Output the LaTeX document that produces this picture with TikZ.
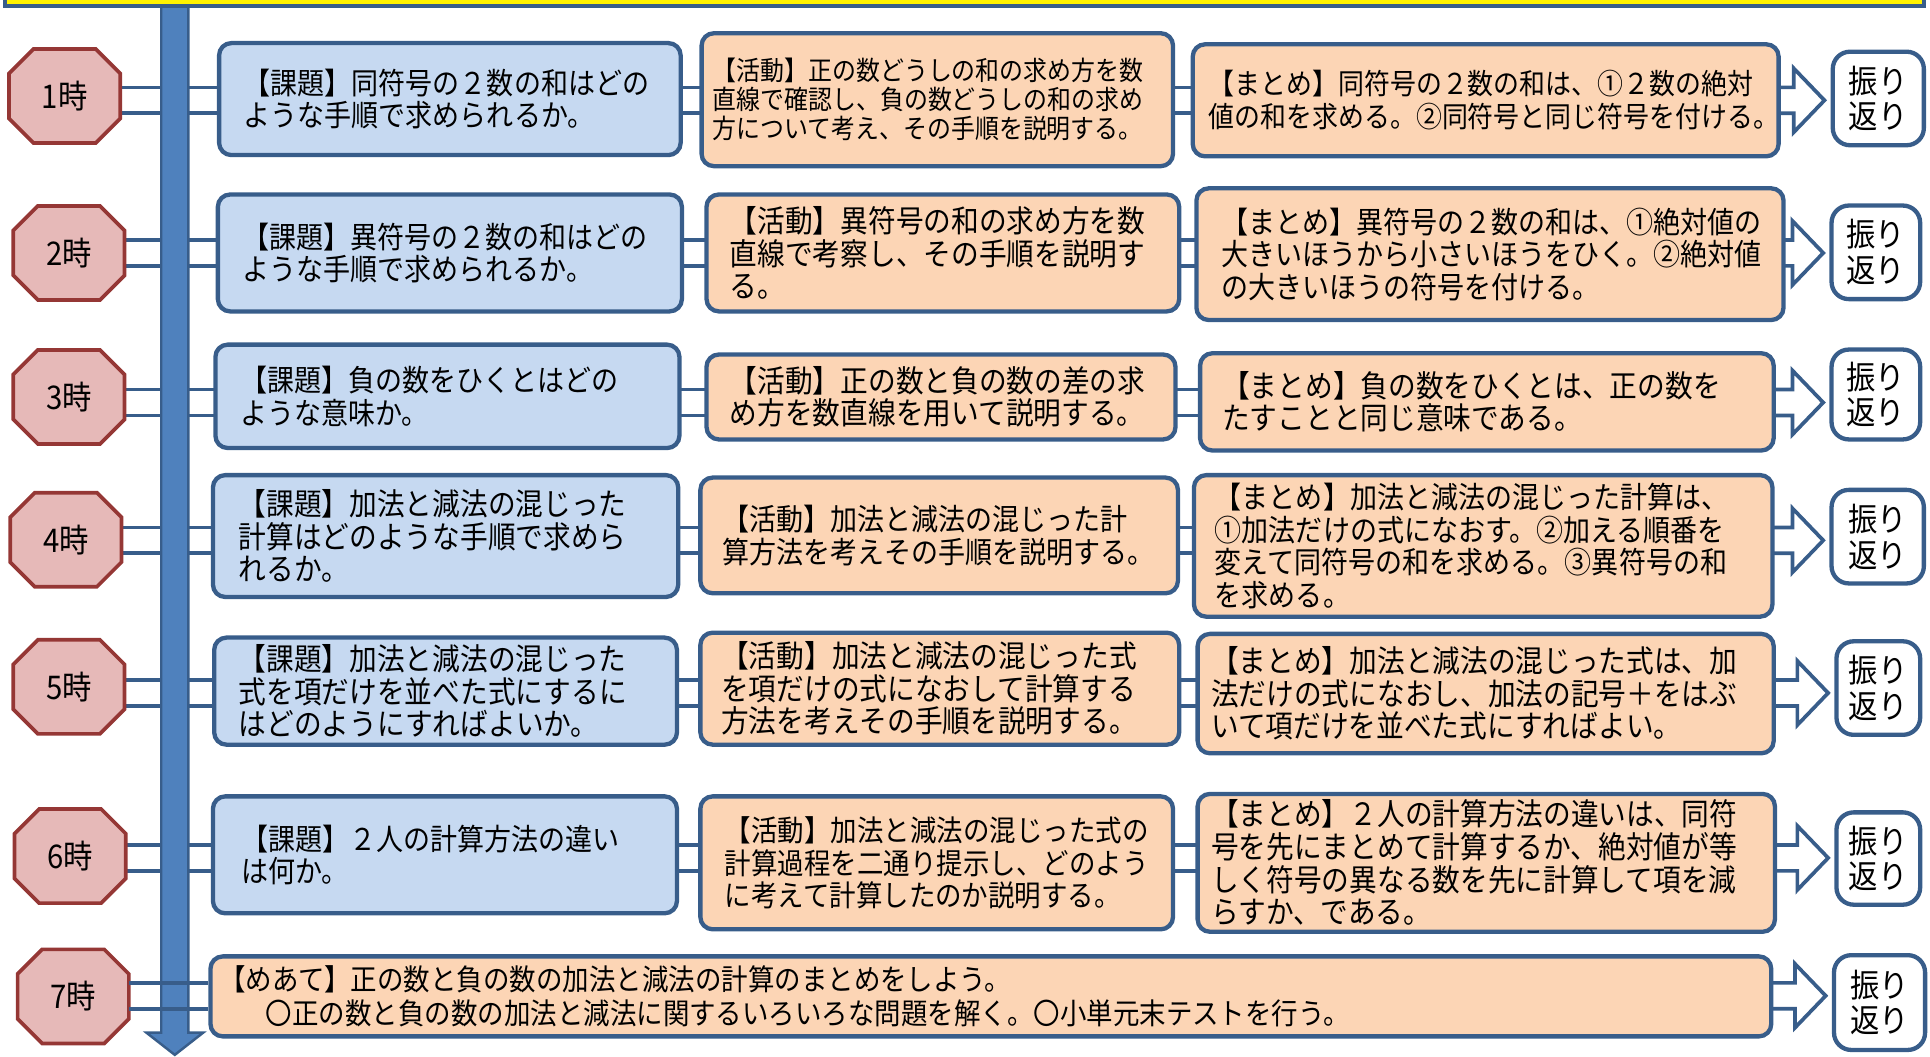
\documentclass[tikz,border=0pt]{standalone}
\usepackage{fontspec}
\newfontfamily\jp[FakeStretch=0.9]{Noto Sans CJK JP}
\usetikzlibrary{calc}
\definecolor{bcol}{HTML}{385D8A}
\definecolor{kfill}{HTML}{C6D9F1}
\definecolor{afill}{HTML}{FCD5B5}
\definecolor{ofill}{HTML}{E6B9B8}
\definecolor{ocol}{HTML}{953735}
\definecolor{barfill}{HTML}{4F81BD}
\pgfdeclarelayer{bg}
\pgfdeclarelayer{mid}
\pgfsetlayers{bg,mid,main}
\tikzset{
  box/.style={draw=bcol, line width=3.5pt, rounded corners=10pt, align=left, inner sep=0pt,
    font=\jp\fontsize{24.4}{26.5}\selectfont},
  fs/.style={font=\jp\fontsize{#1}{26.5}\selectfont},
  kadai/.style={box, fill=kfill},
  katsu/.style={box, fill=afill},
  furi/.style={draw=bcol, line width=3.5pt, rounded corners=14pt, fill=white, align=center,
    inner sep=0pt, font=\jp\fontsize{26.5}{29}\selectfont},
  oct/.style={inner sep=0pt, minimum width=90pt, minimum height=76pt,
    font=\jp\fontsize{26.5}{28}\selectfont},
  conn/.style={draw=bcol, line width=3pt, double=white, double distance=18pt},
  wire/.style={draw=bcol, line width=3pt},
  barstyle/.style={fill=barfill, draw=bcol, line width=2pt, line join=miter},
  octline/.style={fill=ofill, draw=ocol, line width=3pt, line join=miter},
  arrline/.style={fill=white, draw=bcol, line width=3pt, line join=miter},
}
\newcommand\octo[1]{%
  \begin{pgfonlayer}{mid}
  \filldraw[octline] ($(#1.north west)+(20,0)$) -- ($(#1.north east)+(-20,0)$)
    -- ($(#1.north east)+(0,20)$) -- ($(#1.south east)+(0,-20)$)
    -- ($(#1.south east)+(-20,0)$) -- ($(#1.south west)+(20,0)$)
    -- ($(#1.south west)+(0,-20)$) -- ($(#1.north west)+(0,20)$) -- cycle;
  \end{pgfonlayer}}
\newcommand\blkarrow[3]{%
  \begin{pgfonlayer}{bg}
  \filldraw[arrline] ($(#1.east |- #3)+(-8,-10.5)$) -- ($(#2.west |- #3)+(-30,-10.5)$)
    -- ($(#2.west |- #3)+(-30,-26)$) -- ($(#2.west |- #3)+(-5,0)$)
    -- ($(#2.west |- #3)+(-30,26)$) -- ($(#2.west |- #3)+(-30,10.5)$)
    -- ($(#1.east |- #3)+(-8,10.5)$) -- cycle;
  \end{pgfonlayer}}
\newcommand\rowconn[5]{%
  \begin{pgfonlayer}{bg}
  \draw[conn] (#1 |- #5) -- (#2 |- #5);
  \draw[conn] (#2 |- #5) -- (#3 |- #5);
  \draw[conn] (#3 |- #5) -- (#4 |- #5);
  \end{pgfonlayer}}
\begin{document}
\begin{tikzpicture}[x=1pt,y=-1pt]
\useasboundingbox (0,0) rectangle (1568,858.7);
\coordinate (r1) at (0,81.5);
\coordinate (r2) at (0,205.5);
\coordinate (r3) at (0,327);
\coordinate (r4) at (0,439);
\coordinate (r5) at (0,563);
\coordinate (r6) at (0,697);
\coordinate (r7) at (0,809);

% vertical time bar
\begin{pgfonlayer}{mid}
\filldraw[barstyle] (131,0) -- (131,839) -- (119,839) -- (142,857) -- (165,839) -- (153,839) -- (153,0) -- cycle;
\end{pgfonlayer}

% ---------- row 1
\node[oct] (o1) at (52.5,78) {1時}; \octo{o1}
\node[kadai, minimum width=375pt, minimum height=91pt, text width=335pt] (A1) at (365.5,80.5)
  {【課題】同符号の２数の和はどの\\ような手順で求められるか。};
\node[katsu, minimum width=383pt, minimum height=108pt, text width=365pt, font=\jp\fontsize{21.6}{23.5}\selectfont] (B1) at (761.5,81)
  {【活動】正の数どうしの和の求め方を数\\直線で確認し、負の数どうしの和の求め\\方について考え、その手順を説明する。};
\node[katsu, minimum width=476pt, minimum height=91pt, text width=450pt, fs=23.4] (C1) at (1207,81.5)
  {【まとめ】同符号の２数の和は、①２数の絶対\\値の和を求める。②同符号と同じ符号を付ける。};
\node[furi, minimum width=74pt, minimum height=76pt] (R1) at (1526,80) {振り\\返り};
\rowconn{o1}{A1}{B1}{C1}{r1}
\blkarrow{C1}{R1}{r1}

% ---------- row 2
\node[oct] (o2) at (56,205.5) {2時}; \octo{o2}
\node[kadai, minimum width=377pt, minimum height=95pt, text width=337pt] (A2) at (365.5,205.5)
  {【課題】異符号の２数の和はどの\\ような手順で求められるか。};
\node[katsu, minimum width=384pt, minimum height=95pt, text width=346pt, fs=25] (B2) at (766,205.5)
  {【活動】異符号の和の求め方を数\\直線で考察し、その手順を説明す\\る。};
\node[katsu, minimum width=477pt, minimum height=107pt, text width=437pt] (C2) at (1210.5,206.5)
  {【まとめ】異符号の２数の和は、①絶対値の\\大きいほうから小さいほうをひく。②絶対値\\の大きいほうの符号を付ける。};
\node[furi, minimum width=72pt, minimum height=76pt] (R2) at (1524,205) {振り\\返り};
\rowconn{o2}{A2}{B2}{C2}{r2}
\blkarrow{C2}{R2}{r2}

% ---------- row 3
\node[oct] (o3) at (56,322.5) {3時}; \octo{o3}
\node[kadai, minimum width=377pt, minimum height=84pt, text width=337pt] (A3) at (363.5,322)
  {【課題】負の数をひくとはどの\\ような意味か。};
\node[katsu, minimum width=381pt, minimum height=69pt, text width=343pt, fs=25] (B3) at (764.5,322.5)
  {【活動】正の数と負の数の差の求\\め方を数直線を用いて説明する。};
\node[katsu, minimum width=466pt, minimum height=79pt, text width=430pt, fs=25] (C3) at (1208,326.5)
  {【まとめ】負の数をひくとは、正の数を\\たすことと同じ意味である。};
\node[furi, minimum width=72pt, minimum height=73pt] (R3) at (1524,320.5) {振り\\返り};
\rowconn{o3}{A3}{B3}{C3}{r3}
\blkarrow{C3}{R3}{r3}

% ---------- row 4
\node[oct] (o4) at (53.5,438.5) {4時}; \octo{o4}
\node[kadai, minimum width=378pt, minimum height=99pt, text width=336pt, fs=25] (A4) at (362,435.5)
  {【課題】加法と減法の混じった\\計算はどのような手順で求めら\\れるか。};
\node[katsu, minimum width=388pt, minimum height=94pt, text width=352pt] (B4) at (763,435)
  {【活動】加法と減法の混じった計\\算方法を考えその手順を説明する。};
\node[katsu, minimum width=470pt, minimum height=115pt, text width=436pt] (C4) at (1205,443.5)
  {【まとめ】加法と減法の混じった計算は、\\①加法だけの式になおす。②加える順番を\\変えて同符号の和を求める。③異符号の和\\を求める。};
\node[furi, minimum width=75pt, minimum height=76pt] (R4) at (1525.5,436) {振り\\返り};
\rowconn{o4}{A4}{B4}{C4}{r4}
\blkarrow{C4}{R4}{r4}

% ---------- row 5
\node[oct] (o5) at (56,558) {5時}; \octo{o5}
\node[kadai, minimum width=376pt, minimum height=87pt, text width=336pt, fs=25] (A5) at (362,561.5)
  {【課題】加法と減法の混じった\\式を項だけを並べた式にするに\\はどのようにすればよいか。};
\node[katsu, minimum width=389pt, minimum height=91pt, text width=355pt, fs=25] (B5) at (763.5,559.5)
  {【活動】加法と減法の混じった式\\を項だけの式になおして計算する\\方法を考えその手順を説明する。};
\node[katsu, minimum width=468pt, minimum height=97pt, text width=446pt, fs=25] (C5) at (1207,563.5)
  {【まとめ】加法と減法の混じった式は、加\\法だけの式になおし、加法の記号＋をはぶ\\いて項だけを並べた式にすればよい。};
\node[furi, minimum width=68pt, minimum height=76pt] (R5) at (1526,559) {振り\\返り};
\rowconn{o5}{A5}{B5}{C5}{r5}
\blkarrow{C5}{R5}{r5}

% ---------- row 6
\node[oct] (o6) at (57,695.5) {6時}; \octo{o6}
\node[kadai, minimum width=377pt, minimum height=95pt, text width=331pt] (A6) at (361.5,694.5)
  {【課題】２人の計算方法の違い\\は何か。};
\node[katsu, minimum width=384pt, minimum height=108pt, text width=344pt, fs=23.9] (B6) at (761,701)
  {【活動】加法と減法の混じった式の\\計算過程を二通り提示し、どのよう\\に考えて計算したのか説明する。};
\node[katsu, minimum width=469pt, minimum height=112pt, text width=447pt, fs=25] (C6) at (1207.5,701)
  {【まとめ】２人の計算方法の違いは、同符\\号を先にまとめて計算するか、絶対値が等\\しく符号の異なる数を先に計算して項を減\\らすか、である。};
\node[furi, minimum width=68pt, minimum height=75pt] (R6) at (1526,697.5) {振り\\返り};
\rowconn{o6}{A6}{B6}{C6}{r6}
\blkarrow{C6}{R6}{r6}

% ---------- row 7
\node[oct] (o7) at (59.5,809.5) {7時}; \octo{o7}
\node[katsu, minimum width=1268pt, minimum height=65pt, text width=1254pt, font=\jp\fontsize{23.9}{27.5}\selectfont] (Z7) at (805,809.5)
  {【めあて】正の数と負の数の加法と減法の計算のまとめをしよう。\\\hspace*{38pt}〇正の数と負の数の加法と減法に関するいろいろな問題を解く。〇小単元末テストを行う。};
\node[furi, minimum width=74pt, minimum height=77pt] (R7) at (1527,814.5) {振り\\返り};
\begin{pgfonlayer}{mid}
\draw[wire] ($(o7.east |- r7)+(0,-10.5)$) -- ($(Z7.west |- r7)+(0,-10.5)$);
\draw[wire] ($(o7.east |- r7)+(0,10.5)$) -- ($(Z7.west |- r7)+(0,10.5)$);
\end{pgfonlayer}
\blkarrow{Z7}{R7}{r7}

% top band
\filldraw[fill=yellow, draw=bcol, line width=3pt] (4,-30) rectangle (1563,5);
\end{tikzpicture}
\end{document}
